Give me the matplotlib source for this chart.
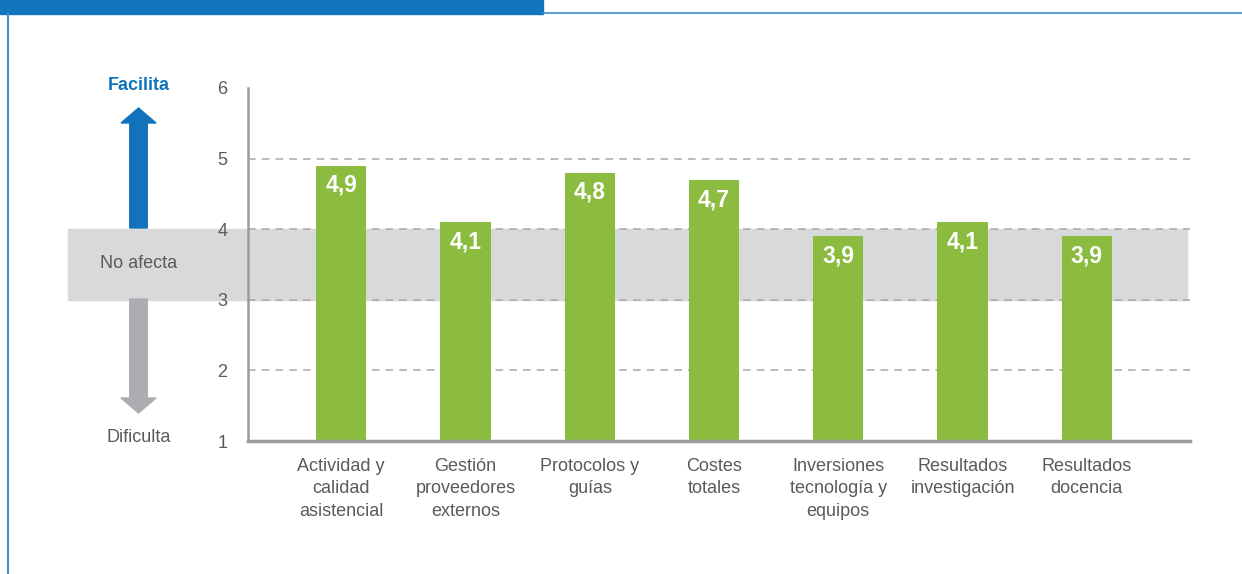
import matplotlib.pyplot as plt
from matplotlib.patches import FancyArrow, Rectangle
from matplotlib.transforms import blended_transform_factory

plt.rcParams['font.family'] = ['Liberation Sans', 'DejaVu Sans']

# valores medios por area (escala 1-6)
categorias = ["Actividad y\ncalidad\nasistencial", "Gestión\nproveedores\nexternos",
              "Protocolos y\nguías", "Costes\ntotales",
              "Inversiones\ntecnología y\nequipos", "Resultados\ninvestigación",
              "Resultados\ndocencia"]
valores = [4.9, 4.1, 4.8, 4.7, 3.9, 4.1, 3.9]
yticks = [1, 2, 3, 4, 5, 6]
banda = (3, 4)  # zona "No afecta"

verde = '#8BBC3F'
azul = '#1273BC'
gris_flecha = '#ACADB0'
gris_banda = '#D8D9DB'
gris_texto = '#5A5A5A'

W, H = 1242, 574
fig = plt.figure(figsize=(W / 100, H / 100), dpi=100)
ax = fig.add_axes([248 / W, 1 - 441 / H, (1190 - 248) / W, (441 - 88) / H])

x = list(range(len(valores)))
ax.bar(x, [v - yticks[0] for v in valores], bottom=yticks[0], width=0.405,
       color=verde, zorder=3)
for xi, v in zip(x, valores):
    ax.text(xi, v - 0.28, f"{v:.1f}".replace('.', ','), ha='center', va='center',
            color='white', fontsize=16.5, fontweight='bold', zorder=4)

ax.set_xlim(-0.75, len(valores) - 0.17)
ax.set_ylim(yticks[0], yticks[-1])
ax.set_yticks(yticks)
ax.set_xticks(x)
ax.set_xticklabels(categorias, fontsize=13, color=gris_texto, linespacing=1.42)
ax.tick_params(axis='both', length=0, labelsize=13, labelcolor=gris_texto)
ax.tick_params(axis='x', pad=12)
ax.tick_params(axis='y', pad=15)

for y in yticks[1:-1]:
    ax.axhline(y, color='#A8A8A8', lw=1.1, ls=(0, (5, 4)), zorder=2)

# banda gris que sale del eje hacia la izquierda
tr = blended_transform_factory(fig.transFigure, ax.transData)
x0 = 68 / W
ax.add_patch(Rectangle((x0, banda[0]), 1187 / W - x0, banda[1] - banda[0],
                       transform=tr, color=gris_banda, clip_on=False, zorder=1))

for s in ['top', 'right']:
    ax.spines[s].set_visible(False)
ax.spines['left'].set_color('#9C9C9C')
ax.spines['left'].set_linewidth(1.8)
ax.spines['bottom'].set_color('#9C9C9C')
ax.spines['bottom'].set_linewidth(2.5)
ax.spines['left'].set_zorder(5)
ax.spines['bottom'].set_zorder(5)

# flechas Facilita / Dificulta (en pulgadas)
t = fig.dpi_scale_trans
cx = 138.5 / 100
fig.patches.append(FancyArrow(cx, (H - 228) / 100, 0, (228 - 108) / 100,
                              width=0.175, head_width=0.35, head_length=0.15,
                              length_includes_head=True, color=azul,
                              transform=t, figure=fig))
fig.patches.append(FancyArrow(cx, (H - 299) / 100, 0, -(413 - 299) / 100,
                              width=0.175, head_width=0.35, head_length=0.15,
                              length_includes_head=True, color=gris_flecha,
                              transform=t, figure=fig))

fig.text(cx / (W / 100), 1 - 86 / H, "Facilita", ha='center', va='center',
         color=azul, fontsize=13, fontweight='bold')
fig.text(cx / (W / 100), 1 - 263 / H, "No afecta", ha='center', va='center',
         color=gris_texto, fontsize=13)
fig.text(cx / (W / 100), 1 - 438 / H, "Dificulta", ha='center', va='center',
         color=gris_texto, fontsize=13)

# marco azul de la figura
fig.patches.append(Rectangle((0, 1 - 14 / H), 543 / W, 14 / H, color='#1174BD',
                             transform=fig.transFigure, figure=fig))
fig.lines.append(plt.Line2D([543 / W, 1], [1 - 13 / H, 1 - 13 / H], color='#3D8FD0',
                            lw=1.2, transform=fig.transFigure, figure=fig))
fig.lines.append(plt.Line2D([8 / W, 8 / W], [0, 1 - 14 / H], color='#3D8FD0',
                            lw=1.5, transform=fig.transFigure, figure=fig))

fig.savefig('out.png', dpi=100)
